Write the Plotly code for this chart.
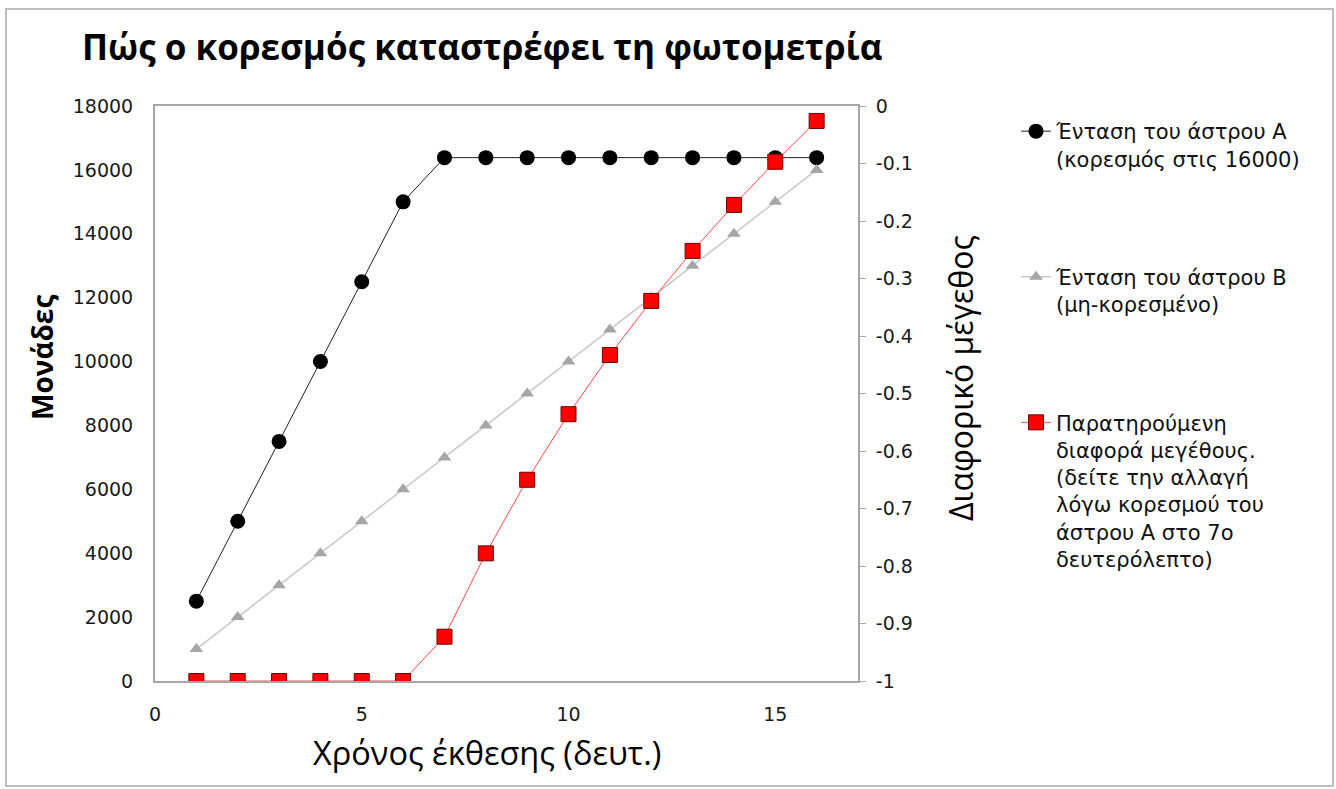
import plotly.graph_objects as go

# ---- data ----
time_s = [1, 2, 3, 4, 5, 6, 7, 8, 9, 10, 11, 12, 13, 14, 15, 16]
star_a = [2500, 5000, 7500, 10000, 12500, 15000, 16383, 16383, 16383, 16383,
          16383, 16383, 16383, 16383, 16383, 16383]
star_b = [1000, 2000, 3000, 4000, 5000, 6000, 7000, 8000, 9000, 10000,
          11000, 12000, 13000, 14000, 15000, 16000]
diff_mag = [-1.0, -1.0, -1.0, -1.0, -1.0, -1.0, -0.923, -0.778, -0.650, -0.536,
            -0.433, -0.339, -0.252, -0.172, -0.097, -0.026]

x_ticks = [0, 5, 10, 15]
y_ticks = [0, 2000, 4000, 6000, 8000, 10000, 12000, 14000, 16000, 18000]
y2_ticks = [0, -0.1, -0.2, -0.3, -0.4, -0.5, -0.6, -0.7, -0.8, -0.9, -1]
y2_labels = ["0", "-0.1", "-0.2", "-0.3", "-0.4", "-0.5", "-0.6", "-0.7", "-0.8", "-0.9", "-1"]

title_text = "Πώς ο κορεσμός καταστρέφει τη φωτομετρία"
x_title = "Χρόνος έκθεσης (δευτ.)"
y_title = "Μονάδες"
y2_title = "Διαφορικό μέγεθος"
name_a = "Ένταση του άστρου Α<br>(κορεσμός στις 16000)"
name_b = "Ένταση του άστρου Β<br>(μη-κορεσμένο)"
name_d = ("Παρατηρούμενη<br>διαφορά μεγέθους.<br>(δείτε την αλλαγή<br>"
          "λόγω κορεσμού του<br>άστρου Α στο 7ο<br>δευτερόλεπτο)")

W, H = 1336, 789
L, R, T, B = 155, 858, 106, 681

fig = go.Figure()
fig.add_trace(go.Scatter(
    x=time_s, y=star_a, name=name_a, mode="lines+markers", legendgroup="a",
    line=dict(color="#202020", width=1),
    marker=dict(symbol="circle", size=15, color="black"),
))
fig.add_trace(go.Scatter(
    x=time_s, y=star_b, name=name_b, mode="lines+markers", legendgroup="b",
    line=dict(color="#c8c8c8", width=1.5),
    marker=dict(symbol="triangle-up", size=12, color="#a6a6a6"),
))
fig.add_trace(go.Scatter(
    x=time_s, y=diff_mag, name=name_d, mode="lines+markers", legendgroup="d",
    yaxis="y2",
    line=dict(color="#ff4a4a", width=1),
    marker=dict(symbol="square", size=15, color="#ff0000",
                line=dict(color="#700000", width=1)),
))


def px_x(p):
    return (p - L) / (R - L)


def px_y(p):
    return (B - p) / (B - T)


tick_font = dict(family="DejaVu Sans", size=19, color="#1a1a1a")
line_col = "#a6a6a6"

fig.update_layout(
    width=W, height=H,
    margin=dict(l=L, r=W - R, t=T, b=H - B),
    paper_bgcolor="white", plot_bgcolor="white",
    title=dict(text="<b>" + title_text + "</b>",
               x=82 / W, xanchor="left", y=1 - 48 / H, yanchor="middle",
               font=dict(family="Open Sans", size=35, color="black")),
    xaxis=dict(range=[0, 17], tickvals=x_ticks, mirror=True,
               showgrid=False, zeroline=False, showline=True, linecolor=line_col,
               linewidth=2, ticks="", ticklabelstandoff=15, tickfont=tick_font),
    yaxis=dict(range=[0, 18000], tickvals=y_ticks, tickformat="d",
               showgrid=False, zeroline=False, showline=True, linecolor=line_col,
               linewidth=2, ticks="", ticklabelstandoff=16, tickfont=tick_font),
    yaxis2=dict(range=[-1, 0], tickvals=y2_ticks, ticktext=y2_labels,
                overlaying="y", side="right",
                showgrid=False, zeroline=False, showline=True, linecolor=line_col,
                linewidth=2, ticks="outside", ticklen=6, tickcolor=line_col,
                ticklabelstandoff=6, tickfont=tick_font),
    legend=dict(x=px_x(1016), xanchor="left", y=px_y(111), yanchor="top",
                font=dict(family="DejaVu Sans", size=21, color="#111111"),
                valign="top", tracegroupgap=88, bgcolor="rgba(0,0,0,0)"),
    showlegend=True,
    annotations=[
        dict(text=x_title, xref="paper", yref="paper", x=px_x(487), y=px_y(752),
             xanchor="center", yanchor="middle", showarrow=False,
             font=dict(family="Open Sans", size=32.5, color="black")),
        dict(text="<b>" + y_title + "</b>", xref="paper", yref="paper",
             x=px_x(42), y=px_y(358), textangle=-90,
             xanchor="center", yanchor="middle", showarrow=False,
             font=dict(family="Open Sans", size=28, color="black")),
        dict(text=y2_title, xref="paper", yref="paper",
             x=px_x(960), y=px_y(378), textangle=-90,
             xanchor="center", yanchor="middle", showarrow=False,
             font=dict(family="Open Sans", size=32, color="black")),
    ],
    shapes=[dict(type="rect", xref="paper", yref="paper",
                 x0=px_x(6), x1=px_x(1333), y0=px_y(786), y1=px_y(9),
                 line=dict(color="#bdbdbd", width=2), fillcolor="rgba(0,0,0,0)",
                 layer="below")],
)

fig.write_html("out.html")
